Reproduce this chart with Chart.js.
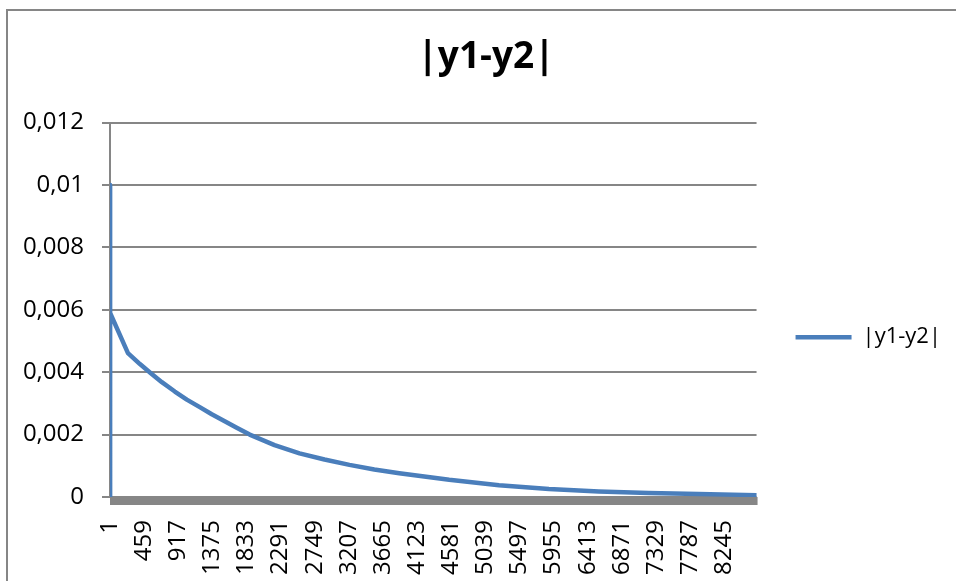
<!DOCTYPE html>
<html>
<head>
<meta charset="utf-8">
<title>|y1-y2|</title>
<script src="https://cdn.jsdelivr.net/npm/chart.js@4/dist/chart.umd.min.js"></script>
<style>
    html, body { margin: 0; padding: 0; background: #fff; overflow: hidden; }
    #wrap { position: relative; width: 956px; height: 581px; overflow: hidden; }
    #frame {
        position: absolute; left: 6px; top: 9px; width: 1000px; height: 700px;
        border-left: 2px solid #868686; border-top: 2px solid #868686;
        pointer-events: none;
    }
    canvas { position: absolute; left: 0; top: 0; }
</style>
</head>
<body>
<div id="wrap">
    <canvas id="diffChart" width="956" height="581"></canvas>
    <div id="frame"></div>
</div>
<script>
// Values (step number -> |y1-y2|)
const xValues = [1, 2, 3, 242, 403, 537, 697, 871, 1032, 1206, 1367, 1541, 1702, 1876, 2210, 2545, 2880, 3215, 3549, 3884, 4554, 5223, 5893, 6562, 7232, 7901, 8680];
const yValues = [0.01, 0, 0.0059, 0.00461, 0.00426, 0.00399, 0.00368, 0.00338, 0.00312, 0.00288, 0.00265, 0.00243, 0.00222, 0.002, 0.00166, 0.0014, 0.0012, 0.00103, 0.00088, 0.00076, 0.00055, 0.00038, 0.00026, 0.00018, 0.00013, 0.0001, 0.00006];

// Axis ticks
const xTicks = [1, 459, 917, 1375, 1833, 2291, 2749, 3207, 3665, 4123, 4581, 5039, 5497, 5955, 6413, 6871, 7329, 7787, 8245];
const yTicks = [0, 0.002, 0.004, 0.006, 0.008, 0.01, 0.012];
const yTickLabels = ['0', '0,002', '0,004', '0,006', '0,008', '0,01', '0,012'];

const seriesName = '|y1-y2|';
const gridColor = '#868686';
const lineColor = '#4a7ebb';
const fontFamily = '"Open Sans", sans-serif';

// Dense category tick marks in the original show up as a grey band under the axis
const axisBand = {
    id: 'axisBand',
    beforeDatasetsDraw(chart) {
        const { ctx, chartArea } = chart;
        ctx.save();
        ctx.fillStyle = gridColor;
        ctx.fillRect(chartArea.left, chartArea.bottom, chartArea.right - chartArea.left + 1, 8);
        ctx.restore();
    }
};

const ctx = document.getElementById('diffChart').getContext('2d');
const diffChart = new Chart(ctx, {
    type: 'line',
    data: {
        datasets: [{
            label: seriesName,
            data: xValues.map((x, i) => ({ x: x, y: yValues[i] })),
            borderColor: lineColor,
            backgroundColor: lineColor,
            borderWidth: 4.5,
            borderCapStyle: 'round',
            borderJoinStyle: 'round',
            pointRadius: 0,
            tension: 0,
            fill: false
        }]
    },
    options: {
        responsive: false,
        animation: false,
        devicePixelRatio: 1,
        layout: {
            padding: { left: 21, right: 5, top: 0, bottom: 0 }
        },
        plugins: {
            title: {
                display: true,
                text: seriesName,
                color: '#000',
                font: { family: fontFamily, size: 37, weight: 'bold' },
                padding: { top: 35.6, bottom: 42.5 }
            },
            legend: {
                position: 'right',
                title: {
                    display: true,
                    text: '',
                    font: { size: 12 },
                    padding: { top: 79, bottom: 0 }
                },
                labels: {
                    color: '#000',
                    font: { family: fontFamily, size: 22 },
                    usePointStyle: true,
                    pointStyle: 'line',
                    pointStyleWidth: 56,
                    padding: 39
                }
            },
            tooltip: { enabled: false }
        },
        scales: {
            x: {
                type: 'linear',
                min: 1,
                max: 8680,
                afterBuildTicks: function(axis) {
                    axis.ticks = xTicks.map(v => ({ value: v }));
                },
                afterFit: function(axis) {
                    axis.height = 84;
                },
                grid: { display: false },
                border: { display: false },
                ticks: {
                    color: '#000',
                    font: { family: fontFamily, size: 24 },
                    autoSkip: false,
                    minRotation: 90,
                    maxRotation: 90,
                    padding: 15,
                    callback: function(value) {
                        return String(value);
                    }
                }
            },
            y: {
                min: 0,
                max: 0.012,
                afterBuildTicks: function(axis) {
                    axis.ticks = yTicks.map(v => ({ value: v }));
                },
                afterFit: function(axis) {
                    axis.width = 110 - 21;
                },
                grid: {
                    color: gridColor,
                    lineWidth: 2,
                    tickLength: 8
                },
                border: { display: true, color: gridColor, width: 2 },
                ticks: {
                    color: '#000',
                    font: { family: fontFamily, size: 24 },
                    padding: 18,
                    callback: function(value, index) {
                        return yTickLabels[index];
                    }
                }
            }
        }
    },
    plugins: [axisBand]
});
</script>
</body>
</html>
